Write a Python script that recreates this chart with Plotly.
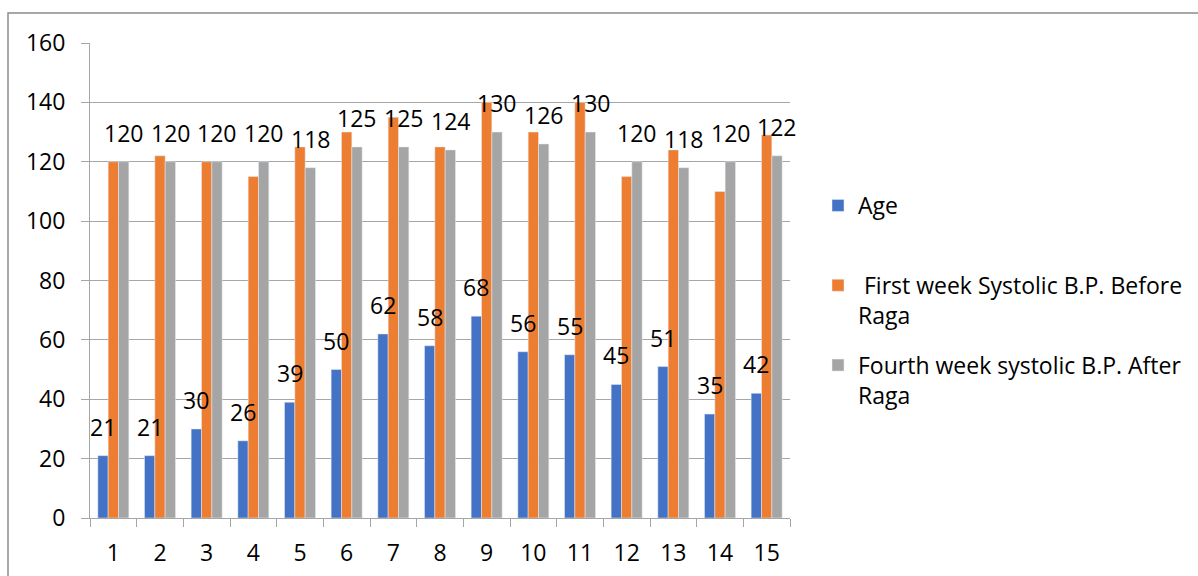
import plotly.graph_objects as go

categories = [str(i) for i in range(1, 16)]
age = [21, 21, 30, 26, 39, 50, 62, 58, 68, 56, 55, 45, 51, 35, 42]
first_week = [120, 122, 120, 115, 125, 130, 135, 125, 140, 130, 140, 115, 124, 110, 129]
fourth_week = [120, 120, 120, 120, 118, 125, 125, 124, 130, 126, 130, 120, 118, 120, 122]

names = ["Age<br> ", " First week Systolic B.P. Before<br>Raga", "Fourth week systolic B.P. After<br>Raga"]
colors = ["#4472C4", "#ED7D31", "#A5A5A5"]

FONT = "Open Sans"
PL, PR, PT, PB = 90, 790, 43, 518
W, H = 1198, 576
bargap = 0.336

fig = go.Figure()
for i, (vals, nm, col) in enumerate(zip([age, first_week, fourth_week], names, colors)):
    fig.add_trace(go.Bar(x=categories, y=vals, name=nm, marker_color=col,
                         legendgroup=str(i)))

# bar width in px for annotation offsets
cat_px = (PR - PL) / len(categories)
bw = cat_px * (1 - bargap) / 3

annotations = []
for series, shift in [(age, -bw), (fourth_week, bw)]:
    for idx, v in enumerate(series):
        annotations.append(dict(x=idx, y=v, text=str(v), showarrow=False,
                                xshift=shift, yshift=11, yanchor="bottom",
                                font=dict(family=FONT, size=23, color="black")))

def px_x(p):
    return (p - PL) / (PR - PL)

def px_y(p):
    return (PB - p) / (PB - PT)

fig.update_layout(
    width=W, height=H,
    margin=dict(l=PL, r=W - PR, t=PT, b=H - PB, autoexpand=False),
    paper_bgcolor="white", plot_bgcolor="white",
    barmode="group", bargap=bargap, bargroupgap=0,
    font=dict(family=FONT, size=23, color="black"),
    showlegend=True,
    legend=dict(x=px_x(818), y=px_y(184), xanchor="left", yanchor="top",
                valign="top", tracegroupgap=17, font=dict(size=23),
                bgcolor="rgba(0,0,0,0)"),
    annotations=annotations,
    shapes=[dict(type="rect", xref="paper", yref="paper",
                 x0=px_x(8), x1=px_x(1210), y0=px_y(590), y1=px_y(13),
                 line=dict(color="#8c8c8c", width=1.5), layer="below")],
)
fig.update_yaxes(range=[0, 160], dtick=20, showgrid=True, gridcolor="#a6a6a6",
                 gridwidth=1, showline=True, linecolor="#a6a6a6", ticks="outside",
                 ticklen=8, tickcolor="#a6a6a6", ticklabelstandoff=11, zeroline=False,
                 tickfont=dict(size=23), automargin=False)
fig.update_xaxes(type="category", range=[-0.5, 14.5], showline=True, linecolor="#a6a6a6",
                 ticks="outside", tickson="boundaries", ticklen=8, tickcolor="#a6a6a6",
                 ticklabelstandoff=14, showgrid=False, tickfont=dict(size=23),
                 automargin=False)

fig.write_html("out.html")
